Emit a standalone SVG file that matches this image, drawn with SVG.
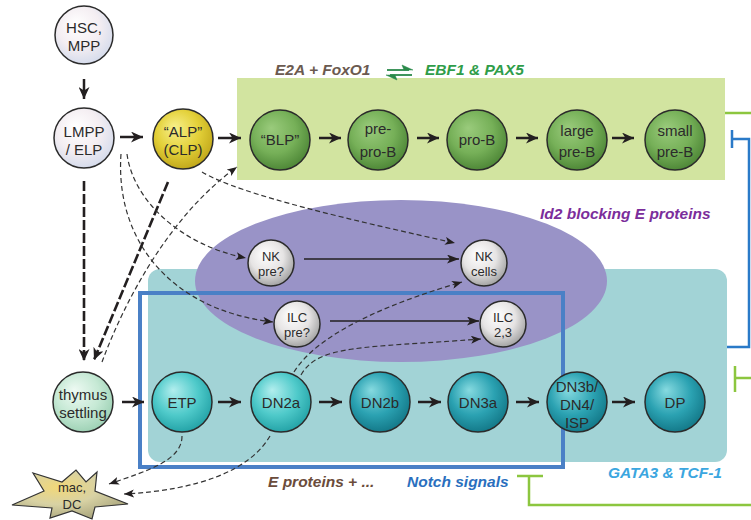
<svg xmlns="http://www.w3.org/2000/svg" width="751" height="520" viewBox="0 0 751 520">
  <style>
    text { font-family: "Liberation Sans", Arial, sans-serif; }
    .t { font-size: 15px; fill: #2b2b2b; text-anchor: middle; }
    .ts { font-size: 13px; fill: #2b2b2b; text-anchor: middle; }
    .lbl { font-size: 15.5px; font-style: italic; font-weight: bold; }
    .node { stroke: #2b2b2b; stroke-width: 1.5; }
    .solid { stroke: #231f20; stroke-width: 2.5; fill: none; }
    .thin { stroke: #231f20; stroke-width: 1.6; fill: none; }
    .dash { stroke: #333; stroke-width: 1.2; fill: none; stroke-dasharray: 5 3; }
    .heavy { stroke: #231f20; stroke-width: 2.6; fill: none; stroke-dasharray: 10 3; }
    .grn { stroke: #8cc63f; stroke-width: 2.5; fill: none; }
    .blu { stroke: #2a7ac8; stroke-width: 2.5; fill: none; }
  </style>
  <defs>
    <radialGradient id="gWhite" cx="0.45" cy="0.4" r="0.6" fx="0.35" fy="0.3">
      <stop offset="0" stop-color="#ffffff"/>
      <stop offset="0.6" stop-color="#f4eef2"/>
      <stop offset="1" stop-color="#d6dcec"/>
    </radialGradient>
    <radialGradient id="gYellow" cx="0.45" cy="0.4" r="0.6" fx="0.35" fy="0.3">
      <stop offset="0" stop-color="#f7ef8a"/>
      <stop offset="0.6" stop-color="#e3d038"/>
      <stop offset="1" stop-color="#c2a91c"/>
    </radialGradient>
    <radialGradient id="gGreen" cx="0.45" cy="0.4" r="0.6" fx="0.35" fy="0.3">
      <stop offset="0" stop-color="#9acb7c"/>
      <stop offset="0.6" stop-color="#76b058"/>
      <stop offset="1" stop-color="#4f8838"/>
    </radialGradient>
    <radialGradient id="gPale" cx="0.45" cy="0.4" r="0.6" fx="0.35" fy="0.3">
      <stop offset="0" stop-color="#eefaf3"/>
      <stop offset="0.6" stop-color="#c6e9d5"/>
      <stop offset="1" stop-color="#9fd2b6"/>
    </radialGradient>
    <radialGradient id="gCyan" cx="0.45" cy="0.4" r="0.6" fx="0.35" fy="0.3">
      <stop offset="0" stop-color="#b2eeee"/>
      <stop offset="0.6" stop-color="#4fcaca"/>
      <stop offset="1" stop-color="#25a4a8"/>
    </radialGradient>
    <radialGradient id="gTeal" cx="0.45" cy="0.4" r="0.6" fx="0.35" fy="0.3">
      <stop offset="0" stop-color="#86dae0"/>
      <stop offset="0.6" stop-color="#2ba2b2"/>
      <stop offset="1" stop-color="#147a8a"/>
    </radialGradient>
    <radialGradient id="gSilver" cx="0.45" cy="0.4" r="0.6" fx="0.35" fy="0.3">
      <stop offset="0" stop-color="#ffffff"/>
      <stop offset="0.6" stop-color="#e6e4e4"/>
      <stop offset="1" stop-color="#a4a4a4"/>
    </radialGradient>
    <radialGradient id="gStar" cx="0.4" cy="0.35" r="0.7">
      <stop offset="0" stop-color="#f2d878"/>
      <stop offset="0.5" stop-color="#d8d2a4"/>
      <stop offset="1" stop-color="#a8a47c"/>
    </radialGradient>
    <marker id="arr" markerUnits="userSpaceOnUse" markerWidth="13" markerHeight="11" refX="12" refY="5.5" orient="auto">
      <path d="M0,0 L12,5.5 L0,11 L3.5,5.5 z" fill="#231f20"/>
    </marker>
    <marker id="arrThin" markerUnits="userSpaceOnUse" markerWidth="13" markerHeight="9" refX="12" refY="4.5" orient="auto">
      <path d="M0,0 L12,4.5 L0,9 L3,4.5 z" fill="#231f20"/>
    </marker>
    <marker id="arrDash" markerUnits="userSpaceOnUse" markerWidth="11" markerHeight="8" refX="10" refY="4" orient="auto">
      <path d="M0,0 L10,4 L0,8 L2.5,4 z" fill="#231f20"/>
    </marker>
  </defs>

  <!-- background regions -->
  <g id="regions">
    <rect x="237" y="78" width="488" height="102" fill="#d2e4a0"/>
    <rect x="148" y="269" width="579" height="193" rx="12" fill="#a2d3d6"/>
    <ellipse cx="401" cy="281" rx="206" ry="81" fill="#9993c7"/>
    <rect x="140" y="293" width="423" height="174" fill="none" stroke="#4a80c6" stroke-width="4"/>
  </g>

  <!-- labels -->
  <g id="labels">
    <text class="lbl" x="275" y="75" fill="#6b5a50">E2A + FoxO1</text>
    <text class="lbl" x="425" y="75" fill="#2f9d49">EBF1 &amp; PAX5</text>
    <text class="lbl" x="540" y="219" fill="#7b2d9b">Id2 blocking E proteins</text>
    <text class="lbl" x="268" y="487" fill="#6b4c3b">E proteins + ...</text>
    <text class="lbl" x="407" y="487" fill="#2a6fbe">Notch signals</text>
    <text class="lbl" x="608" y="478" fill="#3ba6df">GATA3 &amp; TCF-1</text>
    <!-- reciprocal harpoons -->
    <g fill="#2a8a4a" stroke="#2a8a4a">
      <line x1="387" y1="70" x2="409" y2="70" stroke-width="1.8"/>
      <polygon points="413,70 402,65 404,70" stroke-width="0.5"/>
      <line x1="390" y1="75" x2="412" y2="75" stroke-width="1.8"/>
      <polygon points="386,75 397,80 395,75" stroke-width="0.5"/>
    </g>
  </g>

  <!-- connectors -->
  <g id="connectors">
    <!-- solid lineage steps -->
    <line class="solid" x1="84" y1="79" x2="84" y2="99" marker-end="url(#arr)"/>
    <line class="solid" x1="120" y1="137" x2="143" y2="137" marker-end="url(#arr)"/>
    <line class="solid" x1="218" y1="138" x2="241" y2="138" marker-end="url(#arr)"/>
    <line class="solid" x1="319" y1="138" x2="341" y2="138" marker-end="url(#arr)"/>
    <line class="solid" x1="417" y1="138" x2="439" y2="138" marker-end="url(#arr)"/>
    <line class="solid" x1="516" y1="138" x2="538" y2="138" marker-end="url(#arr)"/>
    <line class="solid" x1="612" y1="138" x2="634" y2="138" marker-end="url(#arr)"/>
    <line class="solid" x1="122" y1="402" x2="144" y2="402" marker-end="url(#arr)"/>
    <line class="solid" x1="218" y1="402" x2="241" y2="402" marker-end="url(#arr)"/>
    <line class="solid" x1="319" y1="402" x2="342" y2="402" marker-end="url(#arr)"/>
    <line class="solid" x1="418" y1="402" x2="441" y2="402" marker-end="url(#arr)"/>
    <line class="solid" x1="516" y1="402" x2="539" y2="402" marker-end="url(#arr)"/>
    <line class="solid" x1="612" y1="402" x2="635" y2="402" marker-end="url(#arr)"/>
    <line class="thin" x1="304" y1="259" x2="459" y2="259" marker-end="url(#arrThin)"/>
    <line class="thin" x1="330" y1="321" x2="479" y2="321" marker-end="url(#arrThin)"/>

    <!-- heavy dashed migration to thymus -->
    <path class="heavy" d="M84,181 L84,361" marker-end="url(#arr)"/>
    <path class="heavy" d="M168,182 L94,360" marker-end="url(#arr)"/>

    <!-- thin dashed alternative fates -->
    <path class="dash" d="M127,154 C133,200 180,245 246,258" marker-end="url(#arrDash)"/>
    <path class="dash" d="M121,154 C115,240 170,310 273,322" marker-end="url(#arrDash)"/>
    <path class="dash" d="M202,172 C240,195 360,222 455,243" marker-end="url(#arrDash)"/>
    <path class="dash" d="M102,362 C125,300 170,215 237,167" marker-end="url(#arrDash)"/>
    <path class="dash" d="M294,372 C320,330 400,300 462,282" marker-end="url(#arrDash)"/>
    <path class="dash" d="M301,375 C318,345 360,348 481,339" marker-end="url(#arrDash)"/>
    <path class="dash" d="M182,436 C182,460 150,470 109,484" marker-end="url(#arrDash)"/>
    <path class="dash" d="M270,436 C250,470 200,490 124,494" marker-end="url(#arrDash)"/>

    <!-- cross-regulation lines at the right edge -->
    <path class="grn" d="M725,113 L751,113"/>
    <path class="blu" d="M732,130 L732,148 M732,139 L749,139 L749,347 L727,347"/>
    <path class="grn" d="M735,366 L735,392 M735,378 L751,378"/>
    <path class="grn" d="M517,476 L543,476 M529,476 L529,505 L751,505"/>
  </g>

  <!-- nodes -->
  <g id="hsc"><circle class="node" cx="84" cy="35" r="29" fill="url(#gWhite)"/><text class="t" x="84" y="33">HSC,</text><text class="t" x="84" y="51">MPP</text></g>
  <g id="lmpp"><circle class="node" cx="84" cy="138" r="30" fill="url(#gWhite)"/><text class="t" x="84" y="137">LMPP</text><text class="t" x="84" y="155">/ ELP</text></g>
  <g id="alp"><circle class="node" cx="183" cy="139" r="30" fill="url(#gYellow)"/><text class="t" x="183" y="137">“ALP”</text><text class="t" x="183" y="155">(CLP)</text></g>
  <g id="blp"><circle class="node" cx="280" cy="140" r="30" fill="url(#gGreen)"/><text class="t" x="280" y="145">“BLP”</text></g>
  <g id="preprob"><circle class="node" cx="378" cy="140" r="30" fill="url(#gGreen)"/><text class="t" x="378" y="134">pre-</text><text class="t" x="378" y="157">pro-B</text></g>
  <g id="prob"><circle class="node" cx="477" cy="140" r="30" fill="url(#gGreen)"/><text class="t" x="477" y="145">pro-B</text></g>
  <g id="largepreb"><circle class="node" cx="577" cy="140" r="30" fill="url(#gGreen)"/><text class="t" x="577" y="136">large</text><text class="t" x="577" y="157">pre-B</text></g>
  <g id="smallpreb"><circle class="node" cx="675" cy="140" r="30" fill="url(#gGreen)"/><text class="t" x="675" y="136">small</text><text class="t" x="675" y="157">pre-B</text></g>

  <g id="nkpre"><circle class="node" cx="271" cy="263" r="23" fill="url(#gSilver)"/><text class="ts" x="271" y="261">NK</text><text class="ts" x="271" y="276">pre?</text></g>
  <g id="nkcells"><circle class="node" cx="484" cy="263" r="23" fill="url(#gSilver)"/><text class="ts" x="484" y="261">NK</text><text class="ts" x="484" y="276">cells</text></g>
  <g id="ilcpre"><circle class="node" cx="297" cy="324" r="23" fill="url(#gSilver)"/><text class="ts" x="297" y="322">ILC</text><text class="ts" x="297" y="337">pre?</text></g>
  <g id="ilc23"><circle class="node" cx="503" cy="324" r="23" fill="url(#gSilver)"/><text class="ts" x="503" y="322">ILC</text><text class="ts" x="503" y="337">2,3</text></g>

  <g id="thymus"><circle class="node" cx="83" cy="402" r="30" fill="url(#gPale)"/><text class="t" x="83" y="400">thymus</text><text class="t" x="83" y="418">settling</text></g>
  <g id="etp"><circle class="node" cx="182" cy="402" r="30" fill="url(#gCyan)"/><text class="t" x="182" y="408">ETP</text></g>
  <g id="dn2a"><circle class="node" cx="281" cy="402" r="30" fill="url(#gCyan)"/><text class="t" x="281" y="408">DN2a</text></g>
  <g id="dn2b"><circle class="node" cx="380" cy="402" r="30" fill="url(#gTeal)"/><text class="t" x="380" y="408">DN2b</text></g>
  <g id="dn3a"><circle class="node" cx="478" cy="402" r="30" fill="url(#gTeal)"/><text class="t" x="478" y="408">DN3a</text></g>
  <g id="dn3b"><circle class="node" cx="577" cy="402" r="30" fill="url(#gTeal)"/><text class="t" x="577" y="392">DN3b/</text><text class="t" x="577" y="410">DN4/</text><text class="t" x="577" y="428">ISP</text></g>
  <g id="dp"><circle class="node" cx="675" cy="402" r="30" fill="url(#gTeal)"/><text class="t" x="675" y="408">DP</text></g>

  <g id="macdc">
    <path d="M12,505 L44,491 L33,473 L62,482 L76,470 L86,482 L97,472 L95,491 L128,504 L95,507 L92,519 L72,511 L50,518 L52,508 Z" fill="url(#gStar)" stroke="#333" stroke-width="1.2"/>
    <text class="ts" x="72" y="492">mac,</text>
    <text class="ts" x="72" y="509">DC</text>
  </g>
</svg>
